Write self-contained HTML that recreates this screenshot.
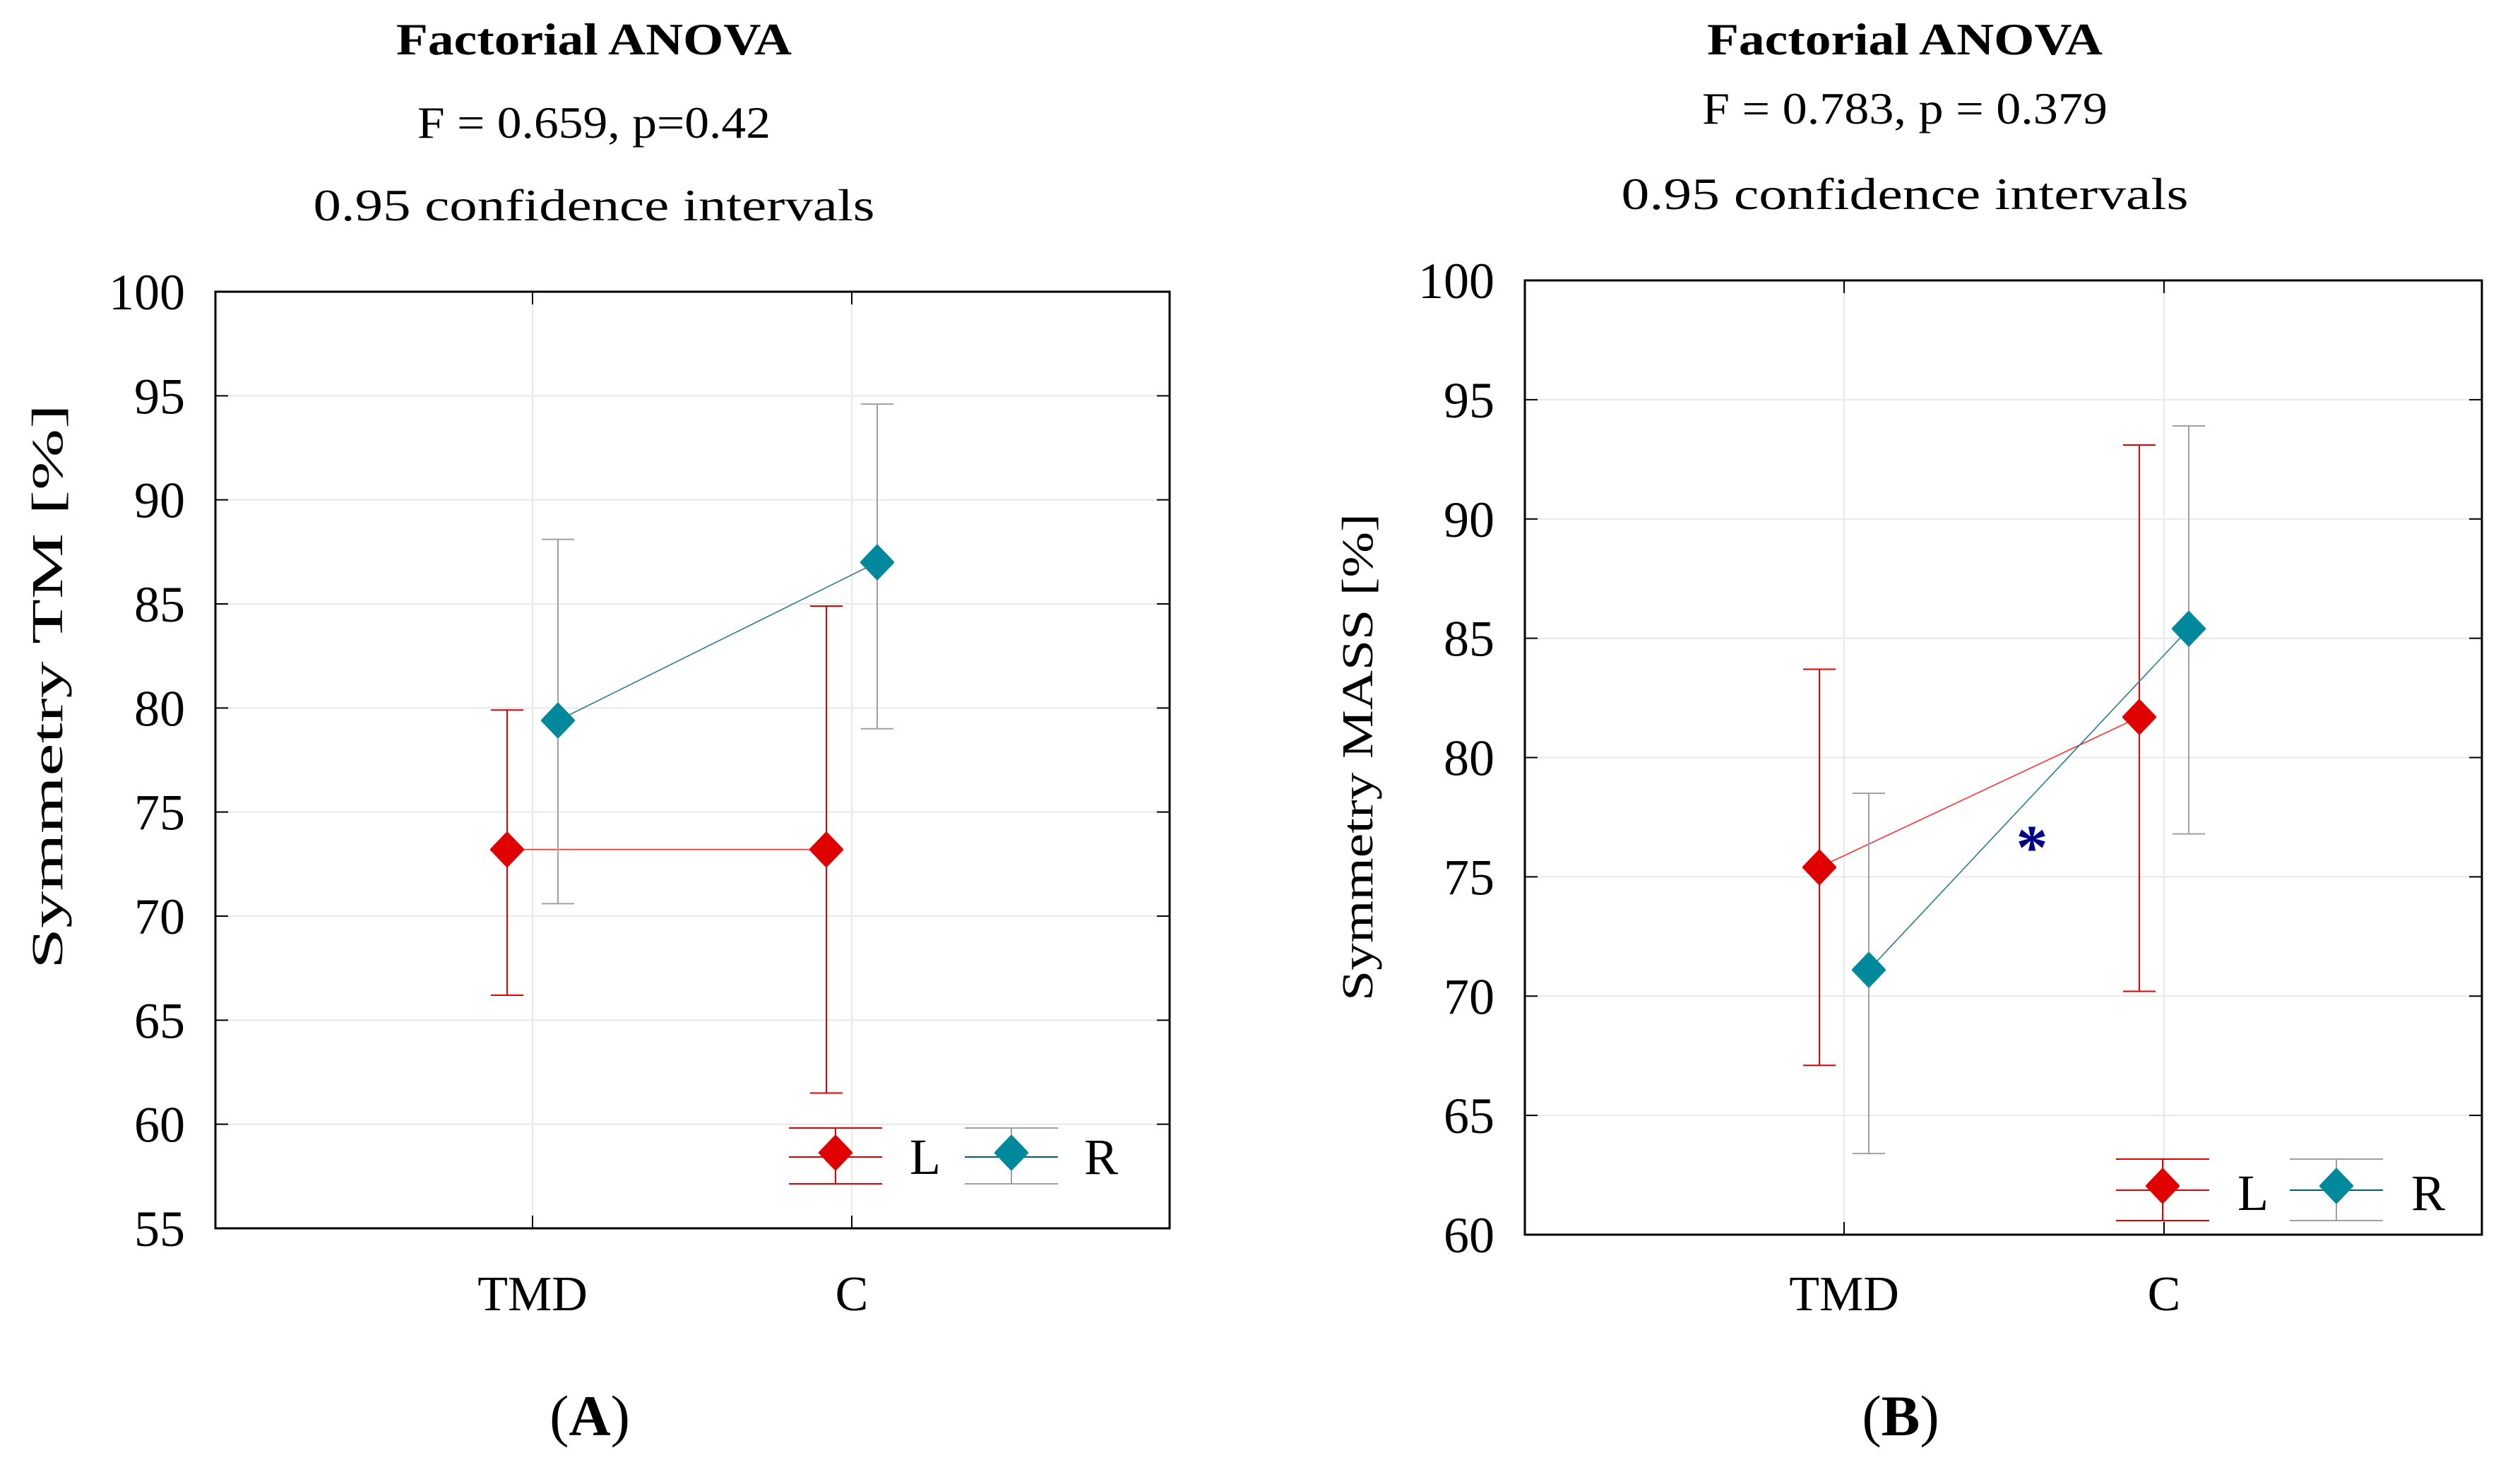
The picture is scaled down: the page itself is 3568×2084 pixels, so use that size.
<!DOCTYPE html>
<html><head><meta charset="utf-8"><style>
html,body{margin:0;padding:0;background:#fff;}
svg{display:block;font-family:"Liberation Serif",serif;}
</style></head><body>
<svg id="svg" width="3568" height="2084" viewBox="0 0 3568 2084" xmlns="http://www.w3.org/2000/svg">
<rect width="3568" height="2084" fill="#fff"/>
<g id="pA"></g>
<g id="pB"></g>
</svg>
<script>
const categories = ["TMD", "C"];
const aL = [73.2, 73.2], aLlo = [66.2, 61.5], aLhi = [79.9, 84.9];
const aR = [79.4, 87.0], aRlo = [70.6, 79.0], aRhi = [88.1, 94.6];
const bL = [75.4, 81.7], bLlo = [67.1, 70.2], bLhi = [83.7, 93.1];
const bR = [71.1, 85.4], bRlo = [63.4, 76.8], bRhi = [78.5, 93.9];
const aTicks = [55, 60, 65, 70, 75, 80, 85, 90, 95, 100];
const bTicks = [60, 65, 70, 75, 80, 85, 90, 95, 100];

const NS = "http://www.w3.org/2000/svg";
function mk(parent, tag, attrs, text) {
  const e = document.createElementNS(NS, tag);
  for (const k in attrs) e.setAttribute(k, attrs[k]);
  if (text !== undefined) e.textContent = text;
  parent.appendChild(e);
  return e;
}
const RED = "#e00000", TEAL = "#00889c", GRAY = "#a0a0a0";

function diamond(g, cx, cy, color) {
  const w = 22, h = 23;
  const p = mk(g, "polygon", {points: `${cx},${cy-h} ${cx+w},${cy} ${cx},${cy+h} ${cx-w},${cy}`, fill: color, "stroke": color, "stroke-width": 4, "stroke-linejoin": "round"});
  return p;
}

function panel(g, cfg) {
  const {L, Llo, Lhi, R, Rlo, Rhi, ticks, x0, x1, y0, y1, catX, off} = cfg;
  const vmin = ticks[0], vmax = ticks[ticks.length - 1];
  const ys = v => y1 - (v - vmin) / (vmax - vmin) * (y1 - y0);
  const xs = i => catX[i];
  ticks.forEach(t => {
    const y = ys(t);
    if (t !== vmin && t !== vmax) {
      const gl = mk(g, "line", {x1: x0, x2: x1, y1: y, y2: y, stroke: "#e8e8e8", "stroke-width": 2});
      
      
    }
    const tk = mk(g, "line", {x1: x0, x2: x0 + 18, y1: y, y2: y, stroke: "#000", "stroke-width": 2});
    
    
    const tk2 = mk(g, "line", {x1: x1, x2: x1 - 18, y1: y, y2: y, stroke: "#000", "stroke-width": 2});
    
    
    const lb = mk(g, "text", {x: cfg.tickRight, y: y + 25, "text-anchor": "end", "font-size": 72}, String(t));
    
    
  });
  categories.forEach((c, i) => {
    const x = xs(i);
    const gl = mk(g, "line", {x1: x, x2: x, y1: y0, y2: y1, stroke: "#e8e8e8", "stroke-width": 2});
    
    
    const tk = mk(g, "line", {x1: x, x2: x, y1: y1, y2: y1 - 18, stroke: "#000", "stroke-width": 2});
    
    
    const tk2 = mk(g, "line", {x1: x, x2: x, y1: y0, y2: y0 + 18, stroke: "#000", "stroke-width": 2});
    
    
    const lb = mk(g, "text", {x: x, y: 1855, "text-anchor": "middle", "font-size": 70}, c);
    
    
  });
  const frame = mk(g, "rect", {x: x0, y: y0, width: x1 - x0, height: y1 - y0, fill: "none", stroke: "#000", "stroke-width": 3});
  
  

  const series = [
    {name: "L", v: L, lo: Llo, hi: Lhi, col: RED, bar: RED, line: "#ff3030", dx: -off},
    {name: "R", v: R, lo: Rlo, hi: Rhi, col: TEAL, bar: GRAY, line: "#2a7a8a", dx: off}
  ];
  series.forEach(s => {
    s.v.forEach((v, i) => {
      const x = xs(i) + s.dx;
      const eb = mk(g, "line", {x1: x, x2: x, y1: ys(s.lo[i]), y2: ys(s.hi[i]), stroke: s.bar, "stroke-width": 2});
      
      
      [s.lo[i], s.hi[i]].forEach(b => {
        const cap = mk(g, "line", {x1: x - 23, x2: x + 23, y1: ys(b), y2: ys(b), stroke: s.bar, "stroke-width": 2});
        
        
      });
    });
    const ln = mk(g, "line", {x1: xs(0) + s.dx, y1: ys(s.v[0]), x2: xs(1) + s.dx, y2: ys(s.v[1]), stroke: s.line, "stroke-width": 1.6});
    
    
  });
  series.forEach(s => {
    s.v.forEach((v, i) => {
      const d = diamond(g, xs(i) + s.dx, ys(v), s.col);
      
      
    });
  });
  const lg = cfg.leg;
  const legend = mk(g, "g", {});
  
  
  [{n: "L", col: RED, bar: RED, line: RED, mx: lg.lx, tx: lg.ltx}, {n: "R", col: TEAL, bar: GRAY, line: "#005f78", mx: lg.rx, tx: lg.rtx}].forEach(e => {
    const eg = mk(legend, "g", {});
    
    
    mk(eg, "line", {x1: e.mx - 66, x2: e.mx + 66, y1: lg.top, y2: lg.top, stroke: e.bar, "stroke-width": 2});
    mk(eg, "line", {x1: e.mx - 66, x2: e.mx + 66, y1: lg.bot, y2: lg.bot, stroke: e.bar, "stroke-width": 2});
    mk(eg, "line", {x1: e.mx, x2: e.mx, y1: lg.top, y2: lg.bot, stroke: e.bar, "stroke-width": 2});
    mk(eg, "line", {x1: e.mx - 66, x2: e.mx + 66, y1: lg.mid, y2: lg.mid, stroke: e.line, "stroke-width": 2});
    diamond(eg, e.mx, lg.my, e.col);
    mk(eg, "text", {x: e.tx, y: lg.ty, "font-size": 72}, e.n);
  });
  const t1 = mk(g, "text", {x: cfg.tc, y: 77, "text-anchor": "middle", "font-size": 64, "font-weight": "bold", textLength: 560, lengthAdjust: "spacingAndGlyphs"}, "Factorial ANOVA");
  
  
  const t2 = mk(g, "text", {x: cfg.tc, y: cfg.t2y, "text-anchor": "middle", "font-size": 64, textLength: cfg.t2w, lengthAdjust: "spacingAndGlyphs"}, cfg.stat);
  
  
  const t3 = mk(g, "text", {x: cfg.tc, y: cfg.t3y, "text-anchor": "middle", "font-size": 64, textLength: cfg.t3w, lengthAdjust: "spacingAndGlyphs"}, "0.95 confidence intervals");
  
  
  const yl = mk(g, "text", {x: 0, y: 0, "text-anchor": "middle", "font-size": 62, transform: `translate(${cfg.ylx},${cfg.yly}) rotate(-90)`, textLength: cfg.ylw, lengthAdjust: "spacingAndGlyphs"}, cfg.ylabel);
  
  
  const pl = mk(g, "text", {x: cfg.tc - 6, y: 2032, "text-anchor": "middle", "font-size": 82}, "");
  
  
  mk(pl, "tspan", {}, "(");
  mk(pl, "tspan", {"font-weight": "bold"}, cfg.letter);
  mk(pl, "tspan", {}, ")");
  return ys;
}

panel(document.getElementById("pA"), {
  L: aL, Llo: aLlo, Lhi: aLhi, R: aR, Rlo: aRlo, Rhi: aRhi, ticks: aTicks,
  x0: 305, x1: 1656, y0: 413, y1: 1739, catX: [754, 1206], off: 36, tickRight: 262,
  leg: {lx: 1183, rx: 1432, ltx: 1288, rtx: 1535, top: 1597, bot: 1676, mid: 1638, my: 1632, ty: 1662},
  tc: 841, t2y: 195, t3y: 312, t2w: 500, t3w: 795, stat: "F = 0.659, p=0.42",
  ylx: 88, yly: 972, ylw: 800, ylabel: "Symmetry TM  [%]", letter: "A"
});
panel(document.getElementById("pB"), {
  L: bL, Llo: bLlo, Lhi: bLhi, R: bR, Rlo: bRlo, Rhi: bRhi, ticks: bTicks,
  x0: 2159, x1: 3514, y0: 397, y1: 1748, catX: [2611, 3064], off: 35, tickRight: 2116,
  leg: {lx: 3062, rx: 3308, ltx: 3168, rtx: 3414, top: 1641, bot: 1728, mid: 1685, my: 1679, ty: 1713},
  tc: 2697, t2y: 175, t3y: 296, t2w: 574, t3w: 803, stat: "F = 0.783, p = 0.379",
  ylx: 1943, yly: 1072, ylw: 690, ylabel: "Symmetry MASS [%]", letter: "B"
});
const star = mk(document.getElementById("pB"), "text", {x: 2877, y: 1230, "text-anchor": "middle", "font-size": 90, "font-weight": "bold", fill: "#00008b"}, "*");


</script>
</body></html>
